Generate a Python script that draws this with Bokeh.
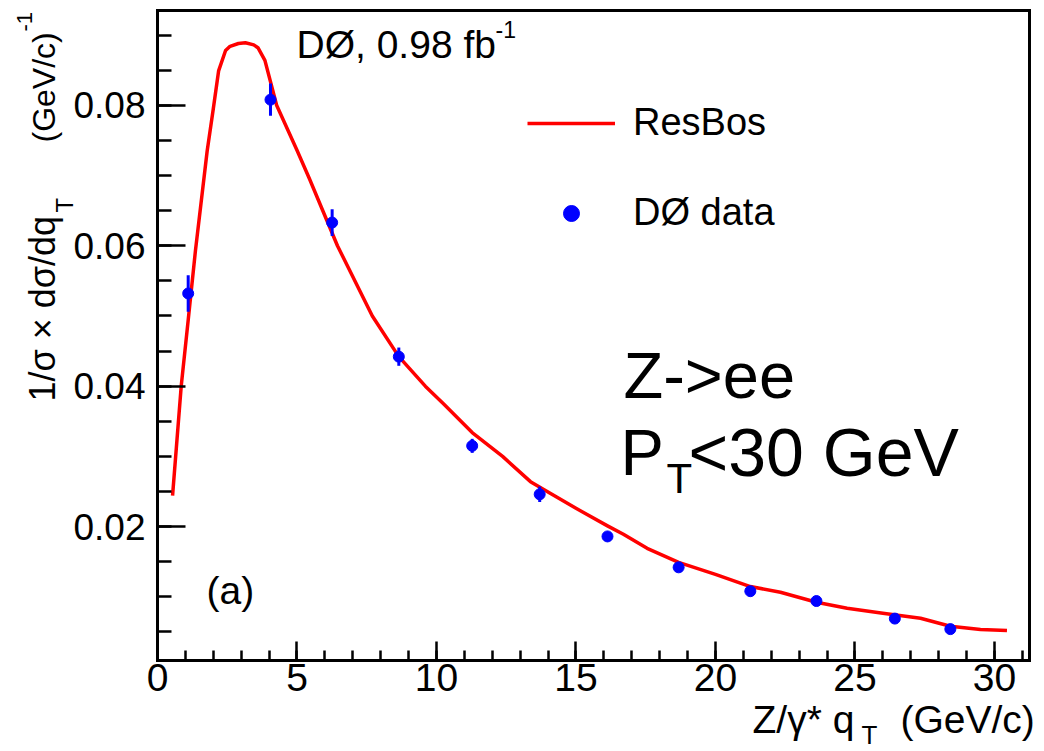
import math
from bokeh.plotting import figure
from bokeh.models import Range1d, FixedTicker, Label, Legend, LegendItem, LinearAxis
from bokeh.embed import file_html
from bokeh.resources import INLINE

# ---- data ----
qt_data = [1.1, 4.05, 6.26, 8.65, 11.28, 13.7, 16.13, 18.68, 21.25, 23.62, 26.43, 28.42]
val_data = [0.0532, 0.0808, 0.0633, 0.0442, 0.0315, 0.0246, 0.0186, 0.0142, 0.0108, 0.0094, 0.0069, 0.0054]
err_data = [0.0026, 0.0023, 0.0019, 0.0013, 0.0010, 0.0011, 0.0004, 0.0004, 0.0003, 0.0003, 0.0003, 0.0003]

qt_resbos = [0.54, 0.85, 1.1, 1.36, 1.78, 2.0, 2.19, 2.44, 2.6, 2.9, 3.15, 3.45, 3.6, 3.85,
             4.27, 5.0, 5.45, 6.45, 7.7, 8.65, 9.6, 10.25, 11.28, 12.37, 13.37, 14.09, 15.0,
             16.13, 16.7, 17.55, 18.68, 20.0, 21.25, 22.33, 23.62, 24.72, 26.0, 27.35, 28.42,
             29.5, 30.45]
val_resbos = [0.0244, 0.0400, 0.0494, 0.0593, 0.0735, 0.0795, 0.0849, 0.0878, 0.0884, 0.0888,
              0.0889, 0.0886, 0.0882, 0.0864, 0.0800, 0.0736, 0.0695, 0.0600, 0.0500, 0.0442,
              0.0400, 0.0375, 0.0334, 0.0300, 0.0264, 0.0247, 0.0226, 0.0201, 0.0189, 0.0169,
              0.0149, 0.0132, 0.01146, 0.01065, 0.00922, 0.00837, 0.00767, 0.00695, 0.00581,
              0.00534, 0.0052]

x_major = [0, 5, 10, 15, 20, 25, 30]
x_minor = list(range(0, 32))
y_major = [0.02, 0.04, 0.06, 0.08]
y_minor = [0.005, 0.01, 0.015, 0.02, 0.025, 0.03, 0.035, 0.04, 0.045, 0.05, 0.055,
           0.06, 0.065, 0.07, 0.075, 0.08, 0.085, 0.09]

X_LO, X_HI = 0.0, 31.24          # axis box extent (data)
Y_LO, Y_HI = 0.00093, 0.0935

FONT = "Liberation Sans"
W, H = 1044, 751

# the frame fills the canvas; the axis box is drawn with fixed-location axes
p = figure(width=W, height=H, x_range=Range1d(-5.628, 31.795), y_range=Range1d(-0.01203, 0.094924),
           output_backend="svg", toolbar_location=None,
           min_border_left=0, min_border_right=0, min_border_top=0, min_border_bottom=0)
p.grid.visible = False
p.background_fill_color = "white"
p.border_fill_color = "white"
p.outline_line_color = None


def style_axis(ax):
    ax.axis_line_width = 3
    ax.axis_line_color = "black"
    ax.axis_line_cap = "square"
    ax.major_tick_out = 0
    ax.minor_tick_out = 0
    ax.major_tick_line_width = 2.5
    ax.minor_tick_line_width = 2.5
    ax.major_label_text_font = FONT
    ax.major_label_text_color = "black"


xa = p.xaxis[0]
style_axis(xa)
xa.fixed_location = Y_LO
xa.bounds = (X_LO, X_HI)
xa.ticker = FixedTicker(ticks=x_major, minor_ticks=x_minor)
xa.major_tick_in = 19
xa.minor_tick_in = 10
xa.major_label_text_font_size = "39px"
xa.major_label_standoff = 4

ya = p.yaxis[0]
style_axis(ya)
ya.fixed_location = X_LO
ya.bounds = (Y_LO, Y_HI)
ya.ticker = FixedTicker(ticks=y_major, minor_ticks=y_minor)
ya.major_tick_in = 28
ya.minor_tick_in = 14
ya.major_label_text_font_size = "37px"
ya.major_label_standoff = 12
ya.major_label_overrides = {v: f"{v:.2f}" for v in y_major}

top = LinearAxis(fixed_location=Y_HI, bounds=(X_LO, X_HI),
                 ticker=FixedTicker(ticks=[], minor_ticks=[]))
style_axis(top)
top.major_tick_in = 0
top.minor_tick_in = 0
p.add_layout(top, "above")

right = LinearAxis(fixed_location=X_HI, bounds=(Y_LO, Y_HI),
                   ticker=FixedTicker(ticks=[], minor_ticks=[]))
style_axis(right)
right.major_tick_in = 0
right.minor_tick_in = 0
p.add_layout(right, "right")

# curve and data
line_r = p.line(qt_resbos, val_resbos, line_color="#ff0000", line_width=3.5, line_join="round")
lo = [v - e for v, e in zip(val_data, err_data)]
hi = [v + e for v, e in zip(val_data, err_data)]
p.segment(x0=qt_data, y0=lo, x1=qt_data, y1=hi, line_color="#0000ff", line_width=3)
pts_r = p.scatter(qt_data, val_data, size=11, fill_color="#0000ff", line_color="#0000ff")

legend = Legend(items=[LegendItem(label="ResBos", renderers=[line_r]),
                       LegendItem(label="DØ data", renderers=[pts_r])],
                location=(527, 517), orientation="vertical",
                glyph_width=88, glyph_height=40, label_height=40, spacing=47,
                label_standoff=18, padding=0, margin=0,
                border_line_alpha=0, background_fill_alpha=0,
                label_text_font=FONT, label_text_font_size="38px", label_text_color="black")
p.add_layout(legend, "center")

SHIFT = 0.35  # baseline correction (em)


def lab(text, px, py, size, rotated=False):
    """px, py: picture position of the text start on its baseline (from top-left)."""
    if rotated:
        sx = px - SHIFT * size
        sy = H - py
        ang = math.pi / 2
    else:
        sx = px
        sy = H - py + SHIFT * size
        ang = 0.0
    p.add_layout(Label(x=sx, y=sy, x_units="screen", y_units="screen", text=text,
                       text_font=FONT, text_font_size=f"{size}px", text_color="black",
                       text_align="left", text_baseline="alphabetic", angle=ang))


# top text
lab("DØ, 0.98 fb", 296, 58, 39)
lab("-1", 495, 37, 23)
# big text
lab("Z->ee", 623, 398, 65)
lab("P", 620, 475, 65)
lab("T", 666, 493, 42)
lab("<30 GeV", 688, 475, 68)
# (a)
lab("(a)", 206, 604, 39)
# x title
lab("Z/γ* q", 752, 733, 39)
lab("T", 861, 744, 26)
lab("(GeV/c)", 900, 733, 39)
# y title (rotated, reading upward)
lab("1/σ × dσ/dq", 55, 401, 36, True)
lab("T", 72, 212, 24, True)
lab("(GeV/c)", 55, 142, 32, True)
lab("-1", 32, 31, 22, True)

open("out.html", "w").write(file_html(p, INLINE))
